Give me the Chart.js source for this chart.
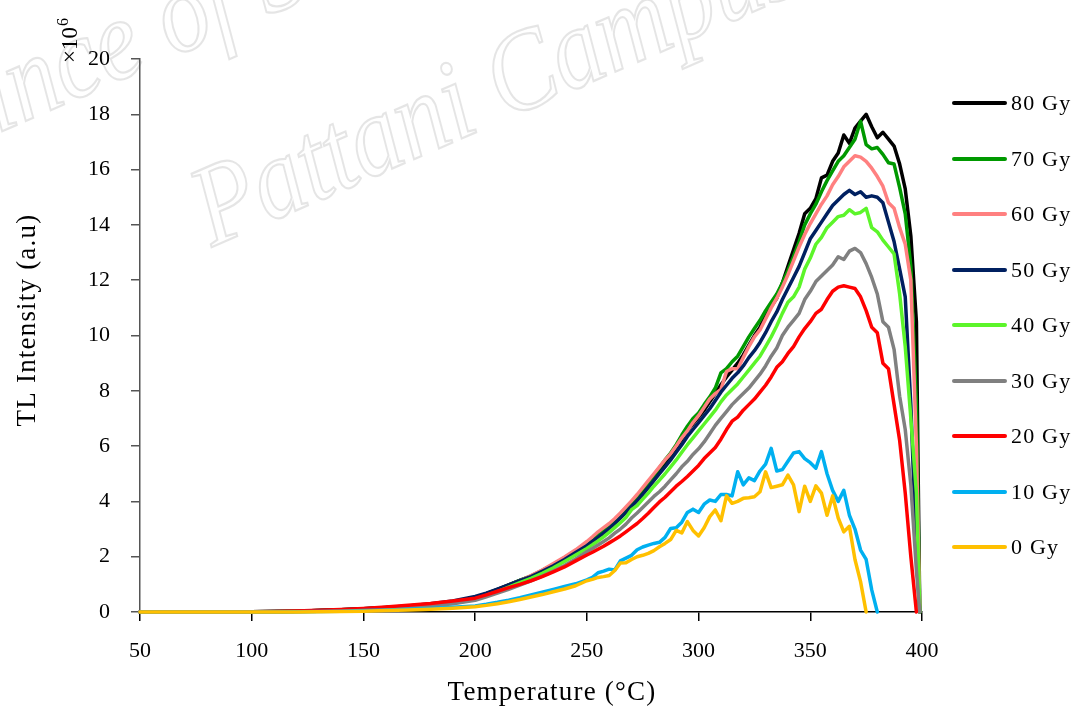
<!DOCTYPE html>
<html>
<head>
<meta charset="utf-8">
<script src="https://cdn.jsdelivr.net/npm/chart.js"></script>
<style>
  html, body { margin: 0; padding: 0; background: #fff; }
  #wrap { position: relative; width: 1078px; height: 708px; }
  #legend { position: absolute; left: 952px; top: 0; font-family: "Liberation Serif", serif; font-size: 22px; letter-spacing: 1.2px; color: #000; }
  .item { position: absolute; left: 0; height: 24px; display: flex; align-items: center; white-space: nowrap; }
  .swatch { width: 55px; height: 4px; border-radius: 2px; margin-right: 4px; }
</style>
</head>
<body>
<div id="wrap">
  <canvas id="tlChart" width="1078" height="708"></canvas>
  <div id="legend"></div>
</div>
<script>
// Temperature (°C)
const temps = [50,60,70,80,90,100,110,120,130,140,150,160,170,180,190,200,
  205,210,215,220,225,230,235,240,245,
  250,252.5,255,257.5,260,262.5,265,267.5,270,272.5,
  275,277.5,280,282.5,285,287.5,290,292.5,295,297.5,
  300,302.5,305,307.5,310,312.5,315,317.5,320,322.5,
  325,327.5,330,332.5,335,337.5,340,342.5,345,347.5,
  350,352.5,355,357.5,360,362.5,365,367.5,370,372.5,
  375,377.5,380,382.5,385,387.5,390,392.5,395,397.5,
  399];

// TL intensity (x10^6 a.u)
const gy0 = [0,0,0,0,0,0,0,0,0.01,0.02,0.03,0.05,0.07,0.1,0.14,0.19,
  0.24,0.3,0.37,0.45,0.54,0.63,0.73,0.83,0.95,
  1.13,1.18,1.25,1.28,1.32,1.5,1.77,1.78,1.9,2.0,
  2.05,2.12,2.22,2.36,2.48,2.62,2.95,2.86,3.27,2.95,
  2.75,3.05,3.45,3.69,3.3,4.2,3.93,4.0,4.11,4.13,
  4.17,4.35,5.07,4.5,4.55,4.6,4.95,4.6,3.63,4.55,
  4.0,4.56,4.3,3.5,4.2,3.4,2.9,3.1,1.9,1.1,
  0,null,null,null,null,null,null,null,null,null,
  null];
const gy10 = [0,0,0,0,0,0,0,0.01,0.02,0.03,0.05,0.07,0.1,0.13,0.17,0.22,
  0.28,0.35,0.43,0.52,0.62,0.72,0.82,0.92,1.02,
  1.16,1.25,1.42,1.48,1.55,1.52,1.85,1.95,2.05,2.25,
  2.35,2.42,2.48,2.52,2.7,3.02,3.05,3.25,3.6,3.72,
  3.6,3.9,4.05,4.0,4.25,4.25,4.2,5.07,4.6,4.85,
  4.75,5.1,5.35,5.92,5.1,5.15,5.45,5.75,5.8,5.55,
  5.4,5.2,5.8,5.0,4.4,4.0,4.4,3.5,3.0,2.24,
  1.9,0.8,0,null,null,null,null,null,null,null,
  null];
const gy20 = [0,0,0,0,0,0.01,0.02,0.04,0.06,0.09,0.13,0.18,0.24,0.31,0.4,0.5,
  0.62,0.75,0.88,1.0,1.13,1.28,1.45,1.63,1.85,
  2.06,2.16,2.27,2.38,2.5,2.62,2.75,2.9,3.05,3.2,
  3.38,3.57,3.78,3.98,4.15,4.35,4.55,4.72,4.9,5.1,
  5.3,5.55,5.75,5.95,6.25,6.6,6.9,7.05,7.3,7.5,
  7.7,7.95,8.2,8.5,8.85,9.05,9.35,9.6,9.95,10.25,
  10.5,10.8,10.95,11.3,11.6,11.75,11.8,11.75,11.7,11.4,
  10.9,10.3,10.1,9.0,8.8,7.5,6.2,4.3,2.0,0,
  null];
const gy30 = [0,0,0,0,0,0,0.01,0.02,0.03,0.05,0.08,0.11,0.16,0.22,0.3,0.42,
  0.55,0.68,0.82,0.97,1.13,1.3,1.48,1.68,1.92,
  2.18,2.3,2.42,2.55,2.68,2.85,3.0,3.18,3.4,3.58,
  3.78,3.98,4.18,4.35,4.55,4.78,5.0,5.25,5.45,5.7,
  5.9,6.15,6.45,6.75,7.0,7.25,7.5,7.7,7.9,8.1,
  8.35,8.6,8.9,9.25,9.55,10.0,10.3,10.55,10.8,11.3,
  11.6,11.95,12.15,12.35,12.55,12.85,12.75,13.05,13.15,13.0,
  12.6,12.1,11.5,10.5,10.3,9.5,7.8,6.6,4.6,1.5,
  0];
const gy40 = [0,0,0,0,0,0,0.01,0.02,0.03,0.05,0.08,0.12,0.17,0.23,0.32,0.45,
  0.6,0.74,0.9,1.06,1.22,1.4,1.6,1.83,2.06,
  2.3,2.43,2.57,2.72,2.88,3.05,3.23,3.42,3.7,3.85,
  4.08,4.3,4.55,4.77,5.0,5.25,5.5,5.78,6.05,6.3,
  6.55,6.8,7.05,7.3,7.6,7.85,8.05,8.25,8.5,8.75,
  9.0,9.25,9.6,9.95,10.35,10.8,11.2,11.4,11.75,12.4,
  12.8,13.3,13.55,13.9,14.1,14.3,14.35,14.55,14.4,14.45,
  14.6,13.9,13.75,13.45,13.2,12.95,11.5,9.6,7.0,4.3,
  0];
const gy50 = [0,0,0,0,0,0.01,0.02,0.03,0.05,0.08,0.12,0.16,0.22,0.3,0.4,0.56,
  0.68,0.83,0.98,1.13,1.28,1.47,1.67,1.9,2.15,
  2.4,2.55,2.7,2.85,3.02,3.2,3.4,3.6,3.82,4.02,
  4.25,4.5,4.75,5.0,5.25,5.5,5.78,6.05,6.35,6.6,
  6.85,7.1,7.35,7.65,7.95,8.2,8.45,8.65,8.9,9.2,
  9.45,9.75,10.1,10.5,10.85,11.3,11.7,12.1,12.5,13.0,
  13.5,13.8,14.1,14.4,14.7,14.9,15.1,15.25,15.1,15.2,
  15.0,15.05,15.0,14.8,14.1,13.4,12.4,11.4,7.5,2.0,
  0];
const gy60 = [0,0,0,0,0,0,0.01,0.02,0.04,0.06,0.09,0.13,0.18,0.25,0.34,0.48,
  0.63,0.79,0.96,1.13,1.32,1.52,1.75,1.99,2.25,
  2.55,2.72,2.9,3.05,3.2,3.38,3.58,3.8,4.02,4.25,
  4.5,4.75,5.0,5.25,5.5,5.72,6.0,6.3,6.55,6.85,
  7.1,7.4,7.7,7.9,8.05,8.7,8.8,8.8,9.2,9.6,
  9.95,10.2,10.6,11.0,11.35,11.75,12.2,12.7,13.2,13.65,
  14.05,14.4,14.75,15.05,15.45,15.75,16.1,16.3,16.5,16.45,
  16.3,16.05,15.75,15.4,14.8,14.6,13.9,13.3,12.0,6.0,
  0];
const gy70 = [0,0,0,0,0,0.01,0.02,0.03,0.05,0.08,0.11,0.15,0.2,0.27,0.36,0.5,
  0.65,0.8,0.97,1.14,1.3,1.5,1.72,1.96,2.22,
  2.5,2.64,2.8,2.98,3.15,3.33,3.55,3.75,3.97,4.2,
  4.45,4.68,4.95,5.22,5.5,5.75,6.05,6.4,6.72,7.0,
  7.2,7.5,7.78,8.1,8.65,8.8,9.05,9.25,9.6,9.95,
  10.25,10.55,10.9,11.2,11.5,11.9,12.35,12.85,13.4,14.0,
  14.4,14.75,15.2,15.6,15.95,16.3,16.5,16.8,17.1,17.75,
  16.9,16.75,16.8,16.55,16.25,16.2,15.35,14.4,12.5,7.5,
  0];
const gy80 = [0,0,0,0,0,0.01,0.02,0.03,0.05,0.08,0.12,0.16,0.21,0.28,0.37,0.52,
  0.66,0.82,0.98,1.14,1.3,1.5,1.72,1.95,2.2,
  2.48,2.62,2.78,2.95,3.12,3.3,3.5,3.7,3.92,4.12,
  4.36,4.6,4.88,5.14,5.4,5.66,5.95,6.25,6.55,6.8,
  7.05,7.3,7.6,7.9,8.22,8.5,8.75,9.0,9.3,9.65,
  10.0,10.3,10.75,11.05,11.35,11.9,12.5,13.1,13.7,14.4,
  14.6,14.95,15.7,15.8,16.3,16.6,17.25,16.95,17.5,17.75,
  18.0,17.55,17.15,17.35,17.1,16.85,16.2,15.3,13.6,10.5,
  0];

// 0 Gy first so it is drawn on top; legend shows them reversed
const seriesNames = ['0 Gy','10 Gy','20 Gy','30 Gy','40 Gy','50 Gy','60 Gy','70 Gy','80 Gy'];
const seriesValues = [gy0, gy10, gy20, gy30, gy40, gy50, gy60, gy70, gy80];
const seriesColors = ['#ffc000','#00b0f0','#ff0000','#808080','#5cf52a','#002060','#ff8080','#009900','#000000'];

const xTicks = [50, 100, 150, 200, 250, 300, 350, 400];
const yTicks = [0, 2, 4, 6, 8, 10, 12, 14, 16, 18, 20];

const serif = '"Liberation Serif", "Times New Roman", serif';

const datasets = seriesNames.map((name, i) => ({
    label: name,
    data: temps.map((t, j) => ({ x: t, y: seriesValues[i][j] })),
    borderColor: seriesColors[i],
    backgroundColor: seriesColors[i],
    borderWidth: 3.5,
    pointRadius: 0,
    tension: 0,
    borderJoinStyle: 'round',
    borderCapStyle: 'round',
    clip: false
}));

// titles, exponent and the faint watermark
const extrasPlugin = {
    id: 'extras',
    beforeDraw(chart) {
        const ctx = chart.ctx;
        ctx.save();
        ctx.strokeStyle = 'rgba(0,0,0,0.1)';
        ctx.lineWidth = 2;
        ctx.font = 'italic 100px ' + serif;
        ctx.translate(212, 247);
        ctx.rotate(-0.41);
        ctx.scale(1, 1.15);
        ctx.strokeText('Pattani Campus', 0, 0);
        ctx.strokeText('Prince of Songkla University', -252, -165);
        ctx.restore();
    },
    afterDraw(chart) {
        const ctx = chart.ctx;
        ctx.save();
        ctx.fillStyle = '#000';
        ctx.font = '27px ' + serif;
        ctx.letterSpacing = '1.2px';
        ctx.textAlign = 'center';
        ctx.textBaseline = 'middle';
        ctx.fillText('Temperature (°C)', 552, 693);
        ctx.translate(28, 320);
        ctx.rotate(-Math.PI / 2);
        ctx.fillText('TL Intensity (a.u)', 0, 0);
        ctx.restore();

        ctx.save();
        ctx.fillStyle = '#000';
        ctx.translate(77, 63);
        ctx.rotate(-Math.PI / 2);
        ctx.font = '23px ' + serif;
        ctx.textAlign = 'left';
        ctx.textBaseline = 'alphabetic';
        ctx.fillText('×10', 0, 0);
        const w = ctx.measureText('×10').width;
        ctx.font = '16px ' + serif;
        ctx.fillText('6', w + 1, -9);
        ctx.restore();
    }
};

new Chart(document.getElementById('tlChart'), {
    type: 'line',
    data: { datasets: datasets },
    options: {
        responsive: false,
        animation: false,
        layout: { padding: { left: 0, right: 156, top: 59, bottom: 0 } },
        plugins: {
            legend: { display: false },
            tooltip: { enabled: false }
        },
        scales: {
            x: {
                type: 'linear',
                min: 50,
                max: 400,
                afterFit: s => { s.height = 96; },
                afterBuildTicks: s => { s.ticks = xTicks.map(v => ({ value: v })); },
                grid: { drawOnChartArea: false, drawTicks: true, tickLength: 9, color: '#000', lineWidth: 1.5 },
                border: { display: true, color: '#000', width: 1.5 },
                ticks: { color: '#000', padding: 17, maxRotation: 0, font: { family: serif, size: 22 } }
            },
            y: {
                type: 'linear',
                min: 0,
                max: 20,
                afterFit: s => { s.width = 140; },
                afterBuildTicks: s => { s.ticks = yTicks.map(v => ({ value: v })); },
                grid: { drawOnChartArea: false, drawTicks: true, tickLength: 9, color: '#555', lineWidth: 1.5 },
                border: { display: true, color: '#555', width: 1.5 },
                ticks: { color: '#000', padding: 21, font: { family: serif, size: 22 } }
            }
        }
    },
    plugins: [extrasPlugin]
});

// legend, 80 Gy at the top
const legend = document.getElementById('legend');
for (let k = seriesNames.length - 1; k >= 0; k--) {
    const row = seriesNames.length - 1 - k;
    const item = document.createElement('div');
    item.className = 'item';
    item.style.top = (91 + row * 55.5) + 'px';
    const sw = document.createElement('span');
    sw.className = 'swatch';
    sw.style.background = seriesColors[k];
    const txt = document.createElement('span');
    txt.textContent = seriesNames[k];
    item.appendChild(sw);
    item.appendChild(txt);
    legend.appendChild(item);
}
</script>
</body>
</html>
